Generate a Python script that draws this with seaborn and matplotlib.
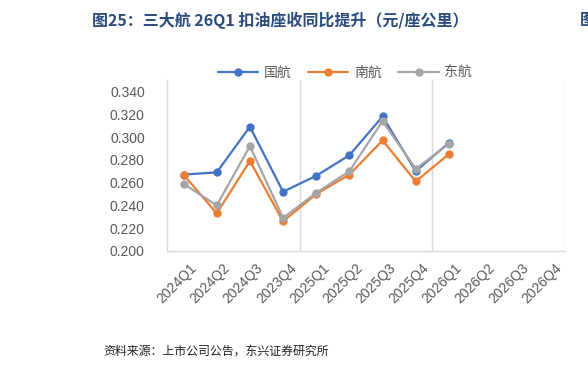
import numpy as np
import pandas as pd
import matplotlib
matplotlib.use("Agg")
import matplotlib.pyplot as plt
import matplotlib.transforms as mtransforms
import seaborn as sns

quarters = ["2024Q1", "2024Q2", "2024Q3", "2023Q4", "2025Q1", "2025Q2",
            "2025Q3", "2025Q4", "2026Q1", "2026Q2", "2026Q3", "2026Q4"]
air_china = [0.267, 0.269, 0.309, 0.252, 0.266, 0.284, 0.318, 0.270, 0.295, np.nan, np.nan, np.nan]
china_southern = [0.267, 0.233, 0.279, 0.226, 0.250, 0.267, 0.297, 0.261, 0.285, np.nan, np.nan, np.nan]
china_eastern = [0.259, 0.240, 0.292, 0.229, 0.251, 0.270, 0.314, 0.272, 0.294, np.nan, np.nan, np.nan]
names = ["国航", "南航", "东航"]
colors = ["#4472C4", "#ED7D31", "#A5A5A5"]

sns.set_theme(style="white")
plt.rcParams['font.family'] = ['Liberation Sans', 'Noto Sans CJK SC', 'DejaVu Sans']

# long format for seaborn
pos = np.arange(len(quarters))
rows = []
for name, vals in zip(names, [air_china, china_southern, china_eastern]):
    for p, v in zip(pos, vals):
        rows.append({"pos": p, "value": v, "airline": name})
df = pd.DataFrame(rows).dropna()

fig = plt.figure(figsize=(5.88, 3.68), dpi=100)
ax = fig.add_axes([167/588, 1 - 251/368, (565 - 167)/588, (251 - 80)/368])

sns.lineplot(data=df, x="pos", y="value", hue="airline", hue_order=names,
             palette=colors, marker="o", markersize=6, markeredgewidth=0,
             linewidth=1.6, ax=ax, legend=False)

ax.set_xlim(-0.5, len(quarters) - 0.5)
ax.set_ylim(0.2, 0.35)
ax.set_yticks(np.arange(0.2, 0.341, 0.02))
ax.set_yticklabels(["%.3f" % t for t in np.arange(0.2, 0.341, 0.02)])
ax.set_xticks(pos)
ax.set_xticklabels(quarters, rotation=45, ha="right", rotation_mode="anchor")
ax.tick_params(axis="both", length=0, labelsize=10, labelcolor="#595959")
ax.tick_params(axis="y", pad=16)
ax.tick_params(axis="x", pad=7)
# nudge the rotated labels to the right like the reference
shift = mtransforms.ScaledTranslation(6/100, 0, fig.dpi_scale_trans)
for lab in ax.get_xticklabels():
    lab.set_transform(lab.get_transform() + shift)
ax.set_xlabel("")
ax.set_ylabel("")

# year separators
for xv in [3.5, 7.5, 11.5]:
    ax.axvline(xv, color="#D9D9D9", linewidth=1, zorder=0)
for s in ["top", "right"]:
    ax.spines[s].set_visible(False)
ax.spines["left"].set_color("#D9D9D9")
ax.spines["bottom"].set_color("#D9D9D9")
ax.spines["left"].set_linewidth(1)
ax.spines["bottom"].set_linewidth(1)

handles = [plt.Line2D([], [], color=c, linewidth=1.6, marker="o", markersize=6,
                      markeredgewidth=0) for c in colors]
fig.legend(handles, names, loc="center", bbox_to_anchor=(345/588, 1 - 73/368),
           ncol=3, frameon=False, fontsize=10, handlelength=2.9,
           columnspacing=1.2, handletextpad=0.4, labelcolor="#595959")

fig.text(92/588, 1 - 20/368, "图25：三大航 26Q1 扣油座收同比提升（元/座公里）",
         fontsize=11.5, fontweight="bold", color="#2B4B7C", ha="left", va="center",
         family=["Noto Sans CJK SC", "DejaVu Sans"])
fig.text(580/588, 1 - 20/368, "图", fontsize=11.5, fontweight="bold", color="#2B4B7C",
         ha="left", va="center", family=["Noto Sans CJK SC"])
fig.text(103/588, 1 - 351/368, "资料来源：上市公司公告，东兴证券研究所",
         fontsize=8.6, color="#222222", ha="left", va="center",
         family=["Noto Sans CJK SC", "DejaVu Sans"])

fig.savefig("out.png", dpi=100)
